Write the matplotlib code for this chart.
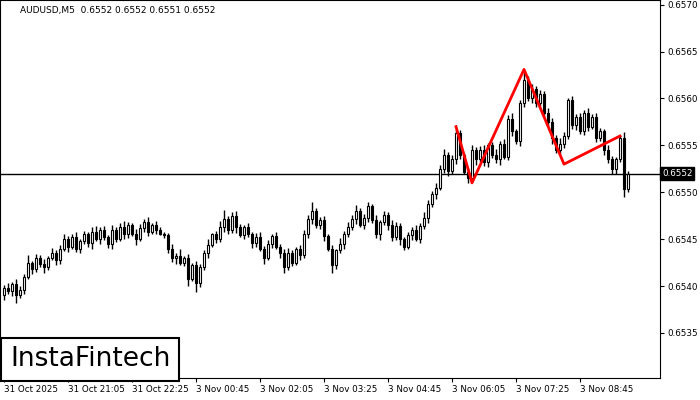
import numpy as np
import matplotlib.pyplot as plt
from matplotlib.patches import Rectangle

# closes in pips above 0.6500
closes = [39.8, 39.5, 40.2, 39.0, 39.6, 41.0, 42.5, 41.8, 43.0, 42.4,
          42.0, 43.0, 43.5, 42.8, 44.0, 45.0, 44.2, 45.2, 44.0, 44.8,
          45.5, 44.6, 45.8, 45.0, 46.0, 45.2, 44.5, 46.0, 45.0, 46.3,
          45.5, 46.5, 45.6, 45.0, 46.2, 46.8, 45.8, 46.5, 46.0, 45.6,
          45.4, 44.0, 43.0, 43.2, 42.5, 43.0, 40.8, 42.2, 40.3, 42.0,
          43.5, 44.4, 45.5, 45.0, 46.3, 47.2, 46.0, 47.5, 46.3, 45.4,
          46.3, 45.5, 44.6, 45.2, 44.0, 43.0, 44.5, 45.3, 44.2, 43.5,
          42.0, 43.5, 42.5, 44.0, 43.3, 45.5, 47.2, 48.0, 46.5, 47.0,
          45.3, 44.0, 42.2, 43.8, 44.5, 45.6, 46.3, 47.2, 48.0, 46.5,
          47.3, 48.5, 47.0, 45.5, 46.8, 47.6, 46.5, 45.2, 46.4, 45.0,
          44.2, 45.4, 46.0, 45.0, 46.4, 47.3, 48.8, 49.8, 50.5, 52.5,
          54.0, 52.3, 53.5, 56.3, 54.0, 52.2, 51.5, 54.5, 53.5, 54.5,
          53.2, 55.0, 54.0, 53.5, 55.2, 53.8, 57.8, 56.5, 55.5, 59.5,
          62.0, 60.0, 61.0, 59.5, 60.5, 58.5, 57.5, 55.8, 54.5, 55.2,
          56.0, 59.8, 57.2, 58.0, 56.5, 58.5, 57.0, 58.0, 55.8, 56.5,
          54.5, 53.5, 52.5, 53.5, 55.8, 50.3, 52.0]
wick_hi = [3, 5, 2, 6, 4, 3, 8, 2, 4, 3, 5, 2, 6, 3, 4, 5, 3, 4, 6, 2,
           4, 3, 5, 6, 3, 4, 2, 5, 3, 4, 6, 3, 2, 5, 4, 3, 6, 2, 4, 3,
           2, 3, 5, 3, 8, 2, 4, 3, 5, 4, 3, 6, 2, 4, 6, 9, 3, 4, 5, 3,
           2, 4, 3, 5, 6, 3, 4, 2, 5, 3, 4, 6, 3, 2, 4, 5, 4, 10, 3, 4,
           5, 3, 4, 2, 6, 3, 5, 4, 6, 3, 4, 5, 3, 6, 2, 4, 3, 5, 4, 3,
           2, 4, 3, 5, 3, 6, 4, 3, 5, 4, 6, 3, 5, 4, 3, 2, 4, 5, 3, 4,
           5, 3, 4, 6, 3, 5, 4, 6, 3, 3, 10, 4, 5, 3, 4, 3, 5, 4, 3, 6,
           4, 2, 5, 3, 4, 3, 5, 3, 4, 4, 3, 5, 4, 3, 3, 6, 3]
wick_lo = [5, 3, 6, 8, 3, 4, 2, 5, 3, 4, 6, 3, 2, 5, 4, 3, 6, 2, 4, 5,
           3, 4, 6, 2, 5, 3, 4, 6, 3, 2, 5, 4, 3, 6, 2, 4, 5, 3, 4, 2,
           3, 5, 4, 6, 3, 4, 8, 3, 9, 4, 3, 5, 2, 4, 3, 5, 4, 3, 6, 2,
           4, 3, 5, 4, 3, 6, 2, 4, 3, 5, 6, 3, 4, 2, 5, 3, 4, 6, 3, 4,
           5, 3, 8, 4, 3, 5, 4, 3, 6, 2, 4, 5, 3, 4, 6, 3, 5, 4, 3, 6,
           4, 3, 5, 2, 4, 3, 6, 4, 5, 3, 4, 6, 3, 5, 4, 3, 5, 4, 6, 3,
           4, 5, 3, 4, 6, 3, 4, 5, 3, 6, 4, 3, 5, 4, 3, 5, 4, 6, 3, 4,
           5, 3, 4, 6, 3, 4, 5, 3, 4, 3, 5, 4, 6, 5, 3, 8, 3]
first_open = 39.0

time_labels = ['31 Oct 2025', '31 Oct 21:05', '31 Oct 22:25', '3 Nov 00:45', '3 Nov 02:05',
               '3 Nov 03:25', '3 Nov 04:45', '3 Nov 06:05', '3 Nov 07:25', '3 Nov 08:45']
price_ticks = [0.6535, 0.6540, 0.6545, 0.6550, 0.6555, 0.6560, 0.6565, 0.6570]

# head & shoulders pattern vertices (bar index, price)
pat_idx = [113, 117, 130, 140, 154]
pat_price = [0.65570, 0.65510, 0.65631, 0.65530, 0.65560]

last_price = 0.6552

closes = np.array(closes) / 1e4 + 0.65
opens = np.concatenate([[first_open / 1e4 + 0.65], closes[:-1]])
highs = np.maximum(opens, closes) + np.array(wick_hi) / 1e5
lows = np.minimum(opens, closes) - np.array(wick_lo) / 1e5

ylo, yhi = 0.65302, 0.65705
fig = plt.figure(figsize=(7, 4), dpi=100)
ax = fig.add_axes([0.0, 0.055, 660 / 700, 0.945])
n = len(closes)
for i in range(n):
    o, c = opens[i], closes[i]
    ax.vlines(i, lows[i], highs[i], color='black', lw=1)
    fc = 'white' if c >= o else 'black'
    h = max(abs(c - o), 0.000005)
    ax.add_patch(Rectangle((i - 0.35, min(o, c)), 0.7, h, facecolor=fc,
                           edgecolor='black', lw=0.8, zorder=3))

ax.plot(pat_idx, pat_price, color='red', lw=2, zorder=4)
ax.axhline(last_price, color='black', lw=1, zorder=2)

ax.set_xlim(-1, 164)
ax.set_ylim(ylo, yhi)
ax.yaxis.tick_right()
ax.set_yticks(price_ticks)
ax.set_yticklabels(['%.4f' % p for p in price_ticks])
ax.set_xticks(np.arange(len(time_labels)) * 16)
ax.set_xticklabels(time_labels, ha='left')
ax.tick_params(labelsize=6.3, length=3, pad=2, direction='out')
ax.text(1.003, (last_price - ylo) / (yhi - ylo), '0.6552', transform=ax.transAxes,
        fontsize=6.3, color='white', va='center', ha='left',
        bbox=dict(facecolor='black', edgecolor='black', pad=1.2))
ax.text(0.03, 0.985, 'AUDUSD,M5  0.6552 0.6552 0.6551 0.6552', transform=ax.transAxes,
        fontsize=6.5, va='top', ha='left')
ax.text(0.015, 0.05, 'InstaFintech', transform=ax.transAxes, fontsize=19, va='center',
        ha='left', bbox=dict(facecolor='white', edgecolor='black', pad=6, lw=1.5), zorder=6)

fig.savefig('out.png', dpi=100)
